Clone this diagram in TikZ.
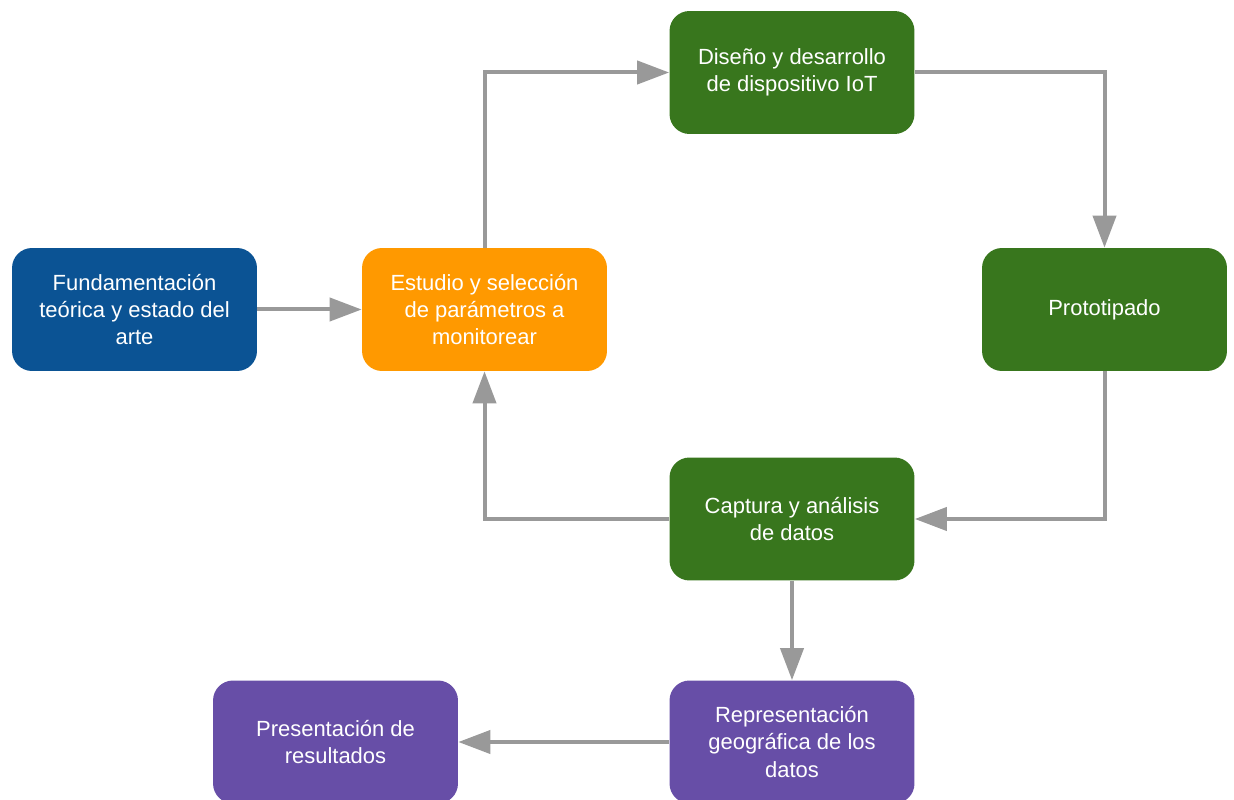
\documentclass[tikz,border=0pt]{standalone}
\usepackage{fontspec}
\setmainfont{Liberation Sans}
\usetikzlibrary{arrows.meta}
\definecolor{azul}{HTML}{0B5394}
\definecolor{naranja}{HTML}{FF9900}
\definecolor{verde}{HTML}{38761D}
\definecolor{morado}{HTML}{674EA7}
\definecolor{gris}{HTML}{999999}

\begin{document}
\begin{tikzpicture}[x=0.02cm, y=-0.02cm,
  caja/.style={rounded corners=0.4cm, minimum width=4.9cm, minimum height=2.46cm,
    align=center, text=white, font=\fontsize{12.5}{15.4}\selectfont},
  flecha/.style={draw=gris, line width=0.08cm, -{Triangle[length=0.64cm, width=0.46cm]}}]
  \useasboundingbox (0,0) rectangle (1234,800);
  % cajas
  \node[caja, fill=azul] (fund) at (134.5,309.5) {Fundamentación\\teórica y estado del\\arte};
  \node[caja, fill=naranja] (estudio) at (484.5,309.5) {Estudio y selección\\de parámetros a\\monitorear};
  \node[caja, fill=verde] (diseno) at (792,72.5) {Diseño y desarrollo\\de dispositivo IoT};
  \node[caja, fill=verde] (proto) at (1104.5,309.5) {Prototipado};
  \node[caja, fill=verde] (captura) at (792,519) {Captura y análisis\\de datos};
  \node[caja, fill=morado] (repres) at (792,742) {Representación\\geográfica de los\\datos};
  \node[caja, fill=morado] (present) at (335.5,742) {Presentación de\\resultados};
  % flechas
  \draw[flecha] (fund) -- (estudio);
  \draw[flecha] (estudio.north) |- (diseno.west);
  \draw[flecha] (diseno.east) -| (proto.north);
  \draw[flecha] (proto.south) |- (captura.east);
  \draw[flecha] (captura.west) -| (estudio.south);
  \draw[flecha] (captura) -- (repres);
  %\draw[flecha] (repres) -- (captura);
  \draw[flecha] (repres) -- (present);
\end{tikzpicture}
\end{document}
